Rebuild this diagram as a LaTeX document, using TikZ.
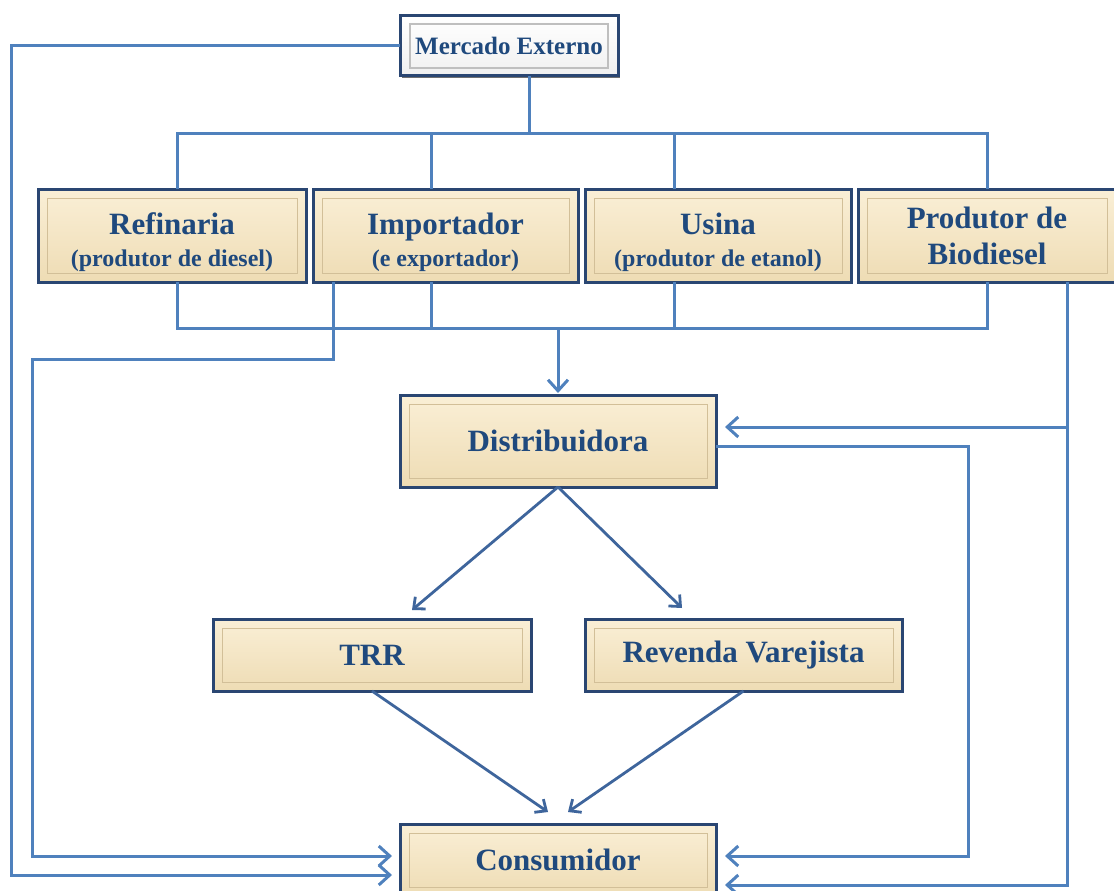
\documentclass[tikz,border=0pt]{standalone}
\usepackage{fontspec}
\setmainfont{Liberation Serif}
\usetikzlibrary{arrows.meta,calc,shadows}
\definecolor{lineblue}{HTML}{4F81BD}
\definecolor{diagblue}{HTML}{3E659C}
\definecolor{navy}{HTML}{2A4672}
\definecolor{txtblue}{HTML}{1F497D}
\definecolor{beigeA}{HTML}{FAEFD6}
\definecolor{beigeB}{HTML}{EEDCB4}
\definecolor{frameC}{HTML}{D2BF98}
\begin{document}
\begin{tikzpicture}[x=1pt,y=-1pt,
  panel/.style={rectangle, draw=navy, line width=3pt, top color=beigeA, bottom color=beigeB,
    inner sep=0pt, outer sep=0pt, text=txtblue, align=center,
    font=\bfseries\fontsize{31}{36}\selectfont,
    drop shadow={shadow xshift=2pt, shadow yshift=-2pt, opacity=0.7, fill=black!80},
    path picture={\draw[frameC, line width=1pt]
      ([shift={(9pt,-9pt)}]path picture bounding box.north west) rectangle
      ([shift={(-9pt,9pt)}]path picture bounding box.south east);}},
  whitepanel/.style={panel, top color=white, bottom color=white!94!black,
    font=\bfseries\fontsize{25}{30}\selectfont,
    path picture={\draw[black!25, line width=1.2pt]
      ([shift={(10pt,-8pt)}]path picture bounding box.north west) rectangle
      ([shift={(-10pt,8pt)}]path picture bounding box.south east);}},
  conn/.style={draw=lineblue, line width=3pt},
  arr/.style={conn, -{Straight Barb[length=11pt,width=20pt]}, shorten >=8pt},
  darr/.style={draw=diagblue, line width=2.8pt, -{Straight Barb[length=9pt,width=16pt]}}
]
\useasboundingbox (0,0) rectangle (1114,891);
\clip (0,0) rectangle (1114,891);
\fill[white] (0,0) rectangle (1114,891);
\newcommand{\subtxt}[1]{{\fontsize{24}{28}\selectfont #1}}
\newcommand{\topstrut}{\rule{0pt}{36pt}}

% nodes
\node[whitepanel, minimum width=218pt, minimum height=60pt] (me) at (509,46) {Mercado Externo};
\node[panel, minimum width=268pt, minimum height=93pt] (ref) at (172,235.5) {\topstrut Refinaria\\[-4pt]\subtxt{(produtor de diesel)}};
\node[panel, minimum width=265pt, minimum height=93pt] (imp) at (445.5,235.5) {\topstrut Importador\\[-4pt]\subtxt{(e exportador)}};
\node[panel, minimum width=266pt, minimum height=93pt] (usi) at (718,235.5) {\topstrut Usina\\[-4pt]\subtxt{(produtor de etanol)}};
\node[panel, minimum width=258pt, minimum height=93pt] (bio) at (987,235.5) {Produtor de\\[0pt]Biodiesel};
\node[panel, minimum width=316pt, minimum height=92pt] (dist) at (558,441) {Distribuidora};
\node[panel, minimum width=318pt, minimum height=72pt] (trr) at (372,655) {TRR};
\node[panel, minimum width=317pt, minimum height=72pt] (rev) at (743.5,655) {Revenda Varejista};
\node[panel, minimum width=316pt, minimum height=72pt] (con) at (558,860) {Consumidor};

% coordinates
\coordinate (xa) at (11,875);
\coordinate (ib) at (333,359);
\coordinate (ic) at (32,856);
\coordinate (mb) at (529,133);
\coordinate (t1) at (177,133);
\coordinate (t2) at (431,133);
\coordinate (t3) at (674,133);
\coordinate (t4) at (987,133);
\coordinate (b1) at (177,328);
\coordinate (b2) at (431,328);
\coordinate (b3) at (674,328);
\coordinate (b4) at (987,328);
\coordinate (bm) at (558,328);
\coordinate (bx) at (1067,885);
\coordinate (bj) at (1067,427);
\coordinate (dr) at (968,446);
\coordinate (dr2) at (968,856);
\coordinate (dA) at (412,610);
\coordinate (dB) at (682,608);
\coordinate (cA) at (548,812);
\coordinate (cB) at (568,812);

% connectors
\draw[arr] (me.west) -| (xa) -- ([yshift=-15pt]con.west);
\draw[arr] (imp.south -| ib) -- (ib) -| (ic) -- ([yshift=4pt]con.west);
\draw[conn] (me.south -| mb) -- (mb);
\draw[conn] (t1 |- ref.north) -- (t1) -- (t4) -- (t4 |- bio.north);
\draw[conn] (t2) -- (t2 |- imp.north);
\draw[conn] (t3) -- (t3 |- usi.north);
\draw[conn] (b1 |- ref.south) -- (b1) -- (b4) -- (b4 |- bio.south);
\draw[conn] (b2 |- imp.south) -- (b2);
\draw[conn] (b3 |- usi.south) -- (b3);
\draw[arr, shorten >=2pt] (bm) -- (dist.north);
\draw[arr, shorten >=9pt] (bio.south -| bx) -- (bx) -- (bx -| con.east);
\draw[arr, shorten >=9pt] (bj) -- (bj -| dist.east);
\draw[arr, shorten >=9pt] (dist.east |- dr) -- (dr) -- (dr2) -- (dr2 -| con.east);
\draw[darr] (dist.south) -- (dA);
\draw[darr] (dist.south) -- (dB);
\draw[darr] (trr.south) -- (cA);
\draw[darr] (rev.south) -- (cB);
\end{tikzpicture}
\end{document}
